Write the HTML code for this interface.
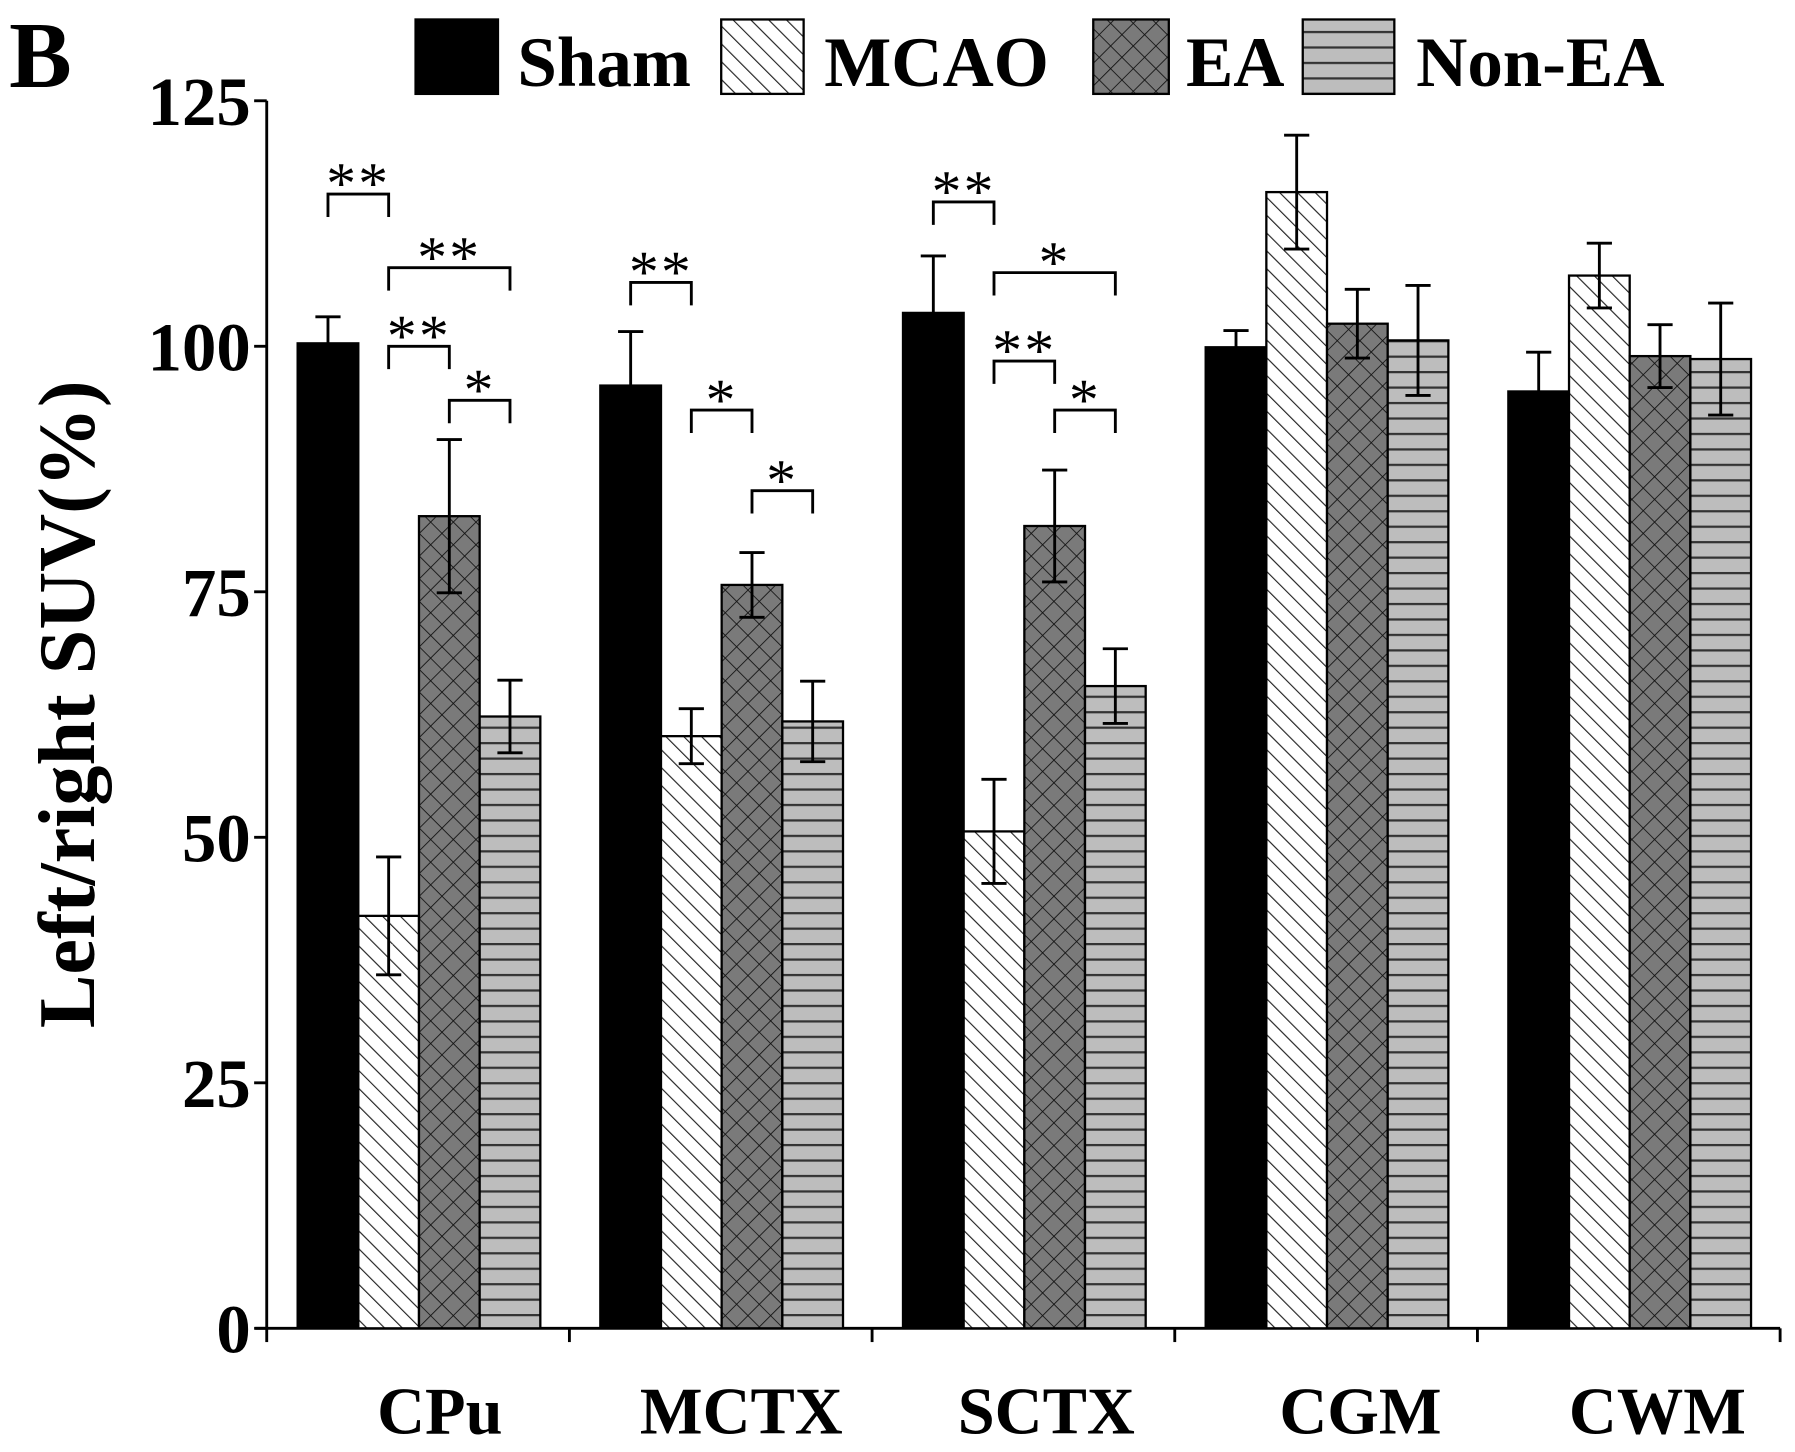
<!DOCTYPE html>
<html><head><meta charset="utf-8">
<style>
html,body{margin:0;padding:0;background:#fff;}
svg{display:block;}
text{font-family:"Liberation Serif",serif;font-weight:bold;fill:#000;}
</style></head>
<body>
<svg id="chart" width="1795" height="1452" viewBox="0 0 1568 1268" preserveAspectRatio="none" xmlns="http://www.w3.org/2000/svg">
<defs>
<pattern id="pDiag" patternUnits="userSpaceOnUse" width="11" height="11" patternTransform="rotate(-45)">
<rect width="11" height="11" fill="#fff"/><line x1="0" y1="0" x2="0" y2="11" stroke="#222" stroke-width="2"/>
</pattern>
<pattern id="pCross" patternUnits="userSpaceOnUse" width="14" height="14" patternTransform="rotate(45)">
<rect width="14" height="14" fill="#7a7a7a"/><line x1="0" y1="0" x2="0" y2="14" stroke="#111" stroke-width="1.5"/><line x1="0" y1="0" x2="14" y2="0" stroke="#111" stroke-width="1.5"/>
</pattern>
<pattern id="pHoriz" patternUnits="userSpaceOnUse" width="14" height="13.5">
<rect width="14" height="13.5" fill="#bdbdbd"/><line x1="0" y1="1" x2="14" y2="1" stroke="#333" stroke-width="2"/>
</pattern>
</defs>
<g id="plot"></g>
</svg>
<script>
const categories = ["CPu","MCTX","SCTX","CGM","CWM"];
const seriesNames = ["Sham","MCAO","EA","Non-EA"];
const sham = [100.3, 96.0, 103.4, 99.9, 95.4];
const shamErr = [2.7, 5.5, 5.8, 1.7, 4.0];
const mcao = [42.0, 60.3, 50.6, 115.7, 107.2];
const mcaoErr = [6.0, 2.8, 5.3, 5.8, 3.3];
const ea = [82.7, 75.7, 81.7, 102.3, 99.0];
const eaErr = [7.8, 3.3, 5.7, 3.5, 3.2];
const nonEa = [62.3, 61.8, 65.4, 100.6, 98.7];
const nonEaErr = [3.7, 4.1, 3.8, 5.6, 5.7];
const yTicks = [0, 25, 50, 75, 100, 125];
const sigCat = [0,0,0,0, 1,1,1, 2,2,2,2];
const sigA =   [0,1,1,2, 0,1,2, 0,1,1,2];
const sigB =   [1,3,2,3, 1,2,3, 1,3,2,3];
const sigY =   [115.5,108,100,94.5, 106.5,93.5,85.3, 114.7,107.5,98.5,93.5];
const sigLbl = ["**","**","**","*","**","*","*","**","*","**","*"];

const values = [sham, mcao, ea, nonEa];
const errs = [shamErr, mcaoErr, eaErr, nonEaErr];
const fills = ["#000","url(#pDiag)","url(#pCross)","url(#pHoriz)"];

const NS = "http://www.w3.org/2000/svg";
const g = document.getElementById('plot');
const X0 = 233, X1 = 1555, Y0 = 1160, Y125 = 88;
const groupW = (X1 - X0) / categories.length;
const barW = 53, groupPad = 27;
function yS(v){ return Y0 - (v/125)*(Y0-Y125); }
function xBar(c,s){ return X0 + c*groupW + groupPad + s*barW; }
function mk(tag, attrs){ const e=document.createElementNS(NS,tag); for(const k in attrs) e.setAttribute(k,attrs[k]); g.appendChild(e); return e; }

let t = mk('text',{x:8,y:76,'font-size':82});
t.textContent = 'B';



let ya = mk('line',{x1:X0,y1:Y125,x2:X0,y2:Y0,stroke:'#000','stroke-width':2.5});


let xa = mk('line',{x1:X0-10,y1:Y0,x2:X1,y2:Y0,stroke:'#000','stroke-width':2.5});


yTicks.forEach(v=>{
  const y=yS(v);
  let tk = mk('line',{x1:X0-11,y1:y,x2:X0,y2:y,stroke:'#000','stroke-width':2.5});
  
  
  let lb = mk('text',{x:X0-14,y:y+21,'font-size':60,'text-anchor':'end'});
  lb.textContent = v;
  
  
});
for(let i=0;i<=categories.length;i++){
  const x = X0 + i*groupW;
  let tk = mk('line',{x1:x,y1:Y0,x2:x,y2:Y0+12,stroke:'#000','stroke-width':2.5});
  
  
}
const labOff = [19, 18, 20, 30, 25];
categories.forEach((c,i)=>{
  let lb = mk('text',{x:X0+i*groupW+groupW/2+labOff[i],y:1252,'font-size':58,'text-anchor':'middle'});
  lb.textContent = c;
  
  
});
let yt = mk('text',{x:0,y:0,'font-size':70,'text-anchor':'middle',transform:'translate(82,615) rotate(-90)'});
yt.textContent = 'Left/right SUV(%)';



values.forEach((arr,s)=>{
  arr.forEach((v,c)=>{
    const x=xBar(c,s), y=yS(v);
    let r = mk('rect',{x:x,y:y,width:barW,height:Y0-y,fill:fills[s],stroke:'#000','stroke-width':2});
    
    
    const e = errs[s][c], cx = x+barW/2, yt2=yS(v+e), yb=yS(v-e);
    let eb = mk('path',{d:`M${cx},${yt2}V${yb}M${cx-11},${yt2}H${cx+11}M${cx-11},${yb}H${cx+11}`,stroke:'#000','stroke-width':2.5,fill:'none'});
    
    
  });
});

sigCat.forEach((c,i)=>{
  const xa2 = xBar(c,sigA[i])+barW/2, xb = xBar(c,sigB[i])+barW/2, y=yS(sigY[i]);
  let p = mk('path',{d:`M${xa2},${y+20}V${y}H${xb}V${y+20}`,stroke:'#000','stroke-width':2.5,fill:'none'});
  
  
  let st = mk('text',{x:(xa2+xb)/2,y:y+8,'font-size':52,'text-anchor':'middle','letter-spacing':'2'});
  st.setAttribute('style','font-family:"Liberation Serif",serif;font-weight:normal');
  st.textContent = sigLbl[i];
  
  
});

const legBox = [363, 630, 955, 1138];
const legW = [72, 72, 66, 80];
const legTxt = [452, 720, 1036, 1237];
seriesNames.forEach((n,s)=>{
  let b = mk('rect',{x:legBox[s],y:17,width:legW[s],height:65,fill:fills[s],stroke:'#000','stroke-width':2});
  
  
  let lt = mk('text',{x:legTxt[s],y:75,'font-size':62});
  lt.textContent = n;
  
  
});
</script>
</body></html>
